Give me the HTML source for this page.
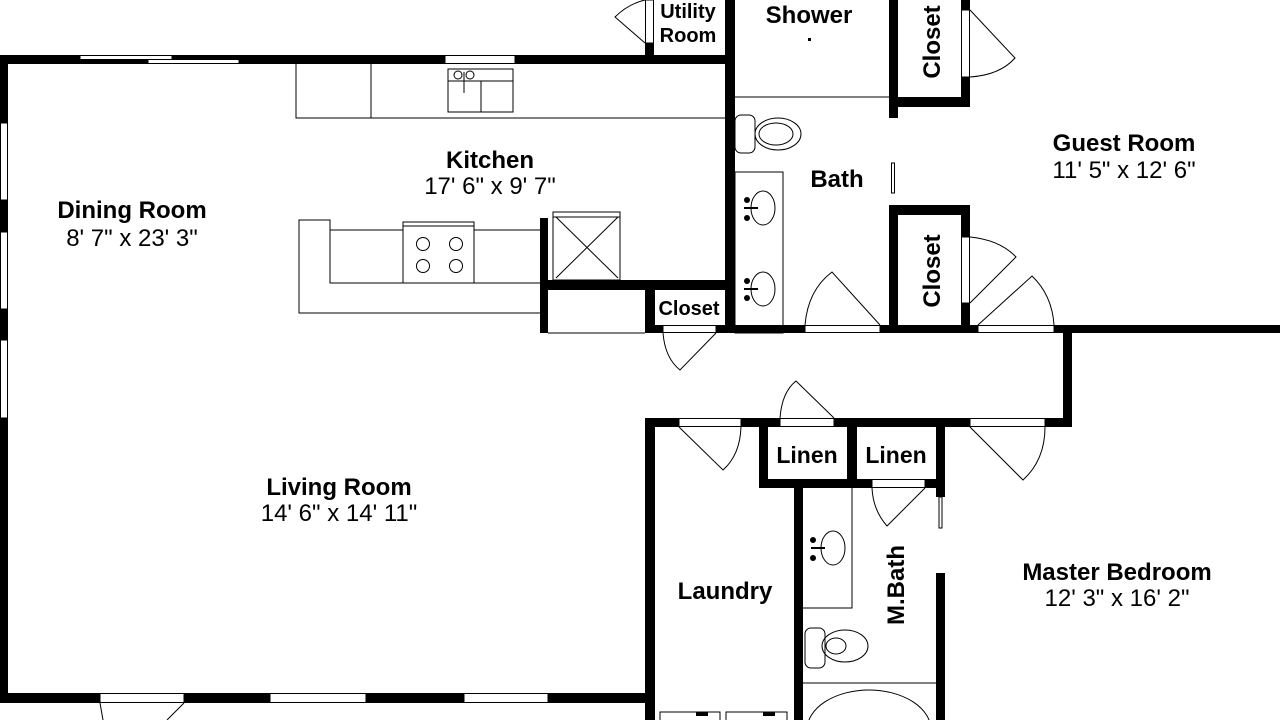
<!DOCTYPE html>
<html><head><meta charset="utf-8"><style>
html,body{margin:0;padding:0;background:#fff;overflow:hidden;width:1280px;height:720px;}
svg{display:block;}
text{font-family:"Liberation Sans",Arial,sans-serif;fill:#000;}
.b{font-weight:bold;font-size:24px;}
.r{font-size:24px;}
</style></head><body>
<svg width="1280" height="720" viewBox="0 0 1280 720" xmlns="http://www.w3.org/2000/svg">
<rect width="1280" height="720" fill="#fff"/>
<g fill="#000">
<rect x="0" y="55" width="735" height="9"/>
<rect x="0" y="55" width="8" height="648"/>
<rect x="0" y="693" width="655" height="10"/>
<rect x="645" y="418" width="10" height="302"/>
<rect x="645" y="43" width="9" height="21"/>
<rect x="725" y="0" width="10" height="333"/>
<rect x="889" y="0" width="9" height="118"/>
<rect x="889" y="97" width="81" height="10"/>
<rect x="961" y="0" width="9" height="10"/>
<rect x="961" y="77" width="9" height="30"/>
<rect x="889" y="205" width="9" height="128"/>
<rect x="889" y="205" width="81" height="10"/>
<rect x="961" y="205" width="9" height="32"/>
<rect x="961" y="303" width="9" height="30"/>
<rect x="716" y="325" width="89" height="8"/>
<rect x="880" y="325" width="98" height="8"/>
<rect x="1054" y="325" width="226" height="8"/>
<rect x="645" y="325" width="18" height="8"/>
<rect x="540" y="218" width="8" height="115"/>
<rect x="540" y="280" width="195" height="10"/>
<rect x="645" y="280" width="10" height="53"/>
<rect x="1063" y="325" width="9" height="102"/>
<rect x="645" y="418" width="34" height="9"/>
<rect x="741" y="418" width="39" height="9"/>
<rect x="834" y="418" width="136" height="9"/>
<rect x="1045" y="418" width="27" height="9"/>
<rect x="759" y="418" width="9" height="70"/>
<rect x="847" y="418" width="10" height="70"/>
<rect x="936" y="418" width="9" height="79"/>
<rect x="759" y="479" width="113" height="9"/>
<rect x="925" y="479" width="20" height="9"/>
<rect x="794" y="479" width="9" height="241"/>
<rect x="936" y="573" width="9" height="147"/>
</g>
<g fill="none" stroke="#000" stroke-width="1">
<rect x="0.5" y="123" width="7" height="77" fill="#fff"/>
<rect x="0.5" y="232" width="7" height="77" fill="#fff"/>
<rect x="0.5" y="340" width="7" height="78" fill="#fff"/>
<rect x="80" y="55.5" width="92" height="4" fill="#fff"/>
<rect x="148" y="59.5" width="91" height="4" fill="#fff"/>
<rect x="445" y="55.5" width="70" height="8" fill="#fff"/>
<rect x="100" y="693.5" width="84" height="9" fill="#fff"/>
<rect x="270" y="693.5" width="96" height="9" fill="#fff"/>
<rect x="464" y="693.5" width="84" height="9" fill="#fff"/>
<path d="M100,703 L103,720 M184,703 L167,720"/>
<rect x="645.5" y="0" width="8" height="43" fill="#fff"/>
<path d="M645,43 L615,17 Q628,4 645,0"/>
<rect x="961.5" y="10" width="8" height="67" fill="#fff"/>
<path d="M970,10 L1015,58 Q1000,75 970,77"/>
<rect x="961.5" y="237" width="8" height="66" fill="#fff"/>
<path d="M970,237 Q1000,240 1016,257 L970,303"/>
<path d="M978,325 L1032,276 Q1052,295 1054,325"/>
<path d="M805,325 Q808,290 832,272 L880,325"/>
<rect x="805" y="325.5" width="75" height="7" fill="#fff"/>
<rect x="978" y="325.5" width="76" height="7" fill="#fff"/>
<rect x="891.5" y="163" width="3" height="30"/>
<path d="M735,97 H889"/>
<rect x="735" y="172" width="48" height="161"/>
<ellipse cx="763" cy="208" rx="12" ry="17"/>
<ellipse cx="763" cy="289" rx="12" ry="17"/>
<rect x="735" y="115" width="20" height="38" rx="6"/>
<ellipse cx="778" cy="134" rx="23" ry="16"/>
<ellipse cx="776" cy="134" rx="17" ry="11"/>
<rect x="663" y="325.5" width="53" height="7" fill="#fff"/>
<path d="M663,333 Q665,358 680,370 L716,333"/>
<path d="M548,333 H645"/>
<rect x="553" y="212" width="67" height="68"/>
<path d="M553,217 H620 M556,217 L618,278 M618,217 L556,278"/>
<path d="M296,64 V118 H725 M371,64 V118"/>
<rect x="448" y="69" width="65" height="43"/>
<path d="M481,81 V112 M448,81 H513"/>
<circle cx="458" cy="75" r="4"/><circle cx="470" cy="75" r="4"/>
<path d="M464,72 V93"/>
<path d="M540,230 H330 V220 H299 V313 H540 M330,230 V283 H540"/>
<rect x="403" y="222" width="71" height="61" fill="#fff"/>
<path d="M403,226 H474"/>
<circle cx="423" cy="244" r="6.5"/><circle cx="456" cy="244" r="6.5"/>
<circle cx="423" cy="266" r="6.5"/><circle cx="456" cy="266" r="6.5"/>
<rect x="679" y="418.5" width="62" height="8" fill="#fff"/>
<path d="M679,427 L723,470 Q740,455 741,427"/>
<rect x="780" y="418.5" width="54" height="8" fill="#fff"/>
<path d="M780,418 Q782,392 796,381 L834,418"/>
<rect x="970" y="418.5" width="75" height="8" fill="#fff"/>
<path d="M970,427 L1023,480 Q1045,460 1045,427"/>
<rect x="872" y="479.5" width="53" height="8" fill="#fff"/>
<path d="M872,488 Q873,510 887,526 L925,488"/>
<rect x="939" y="497" width="3" height="31"/>
<path d="M803,608 H852 V488"/>
<ellipse cx="833" cy="548" rx="12" ry="17"/>
<rect x="805" y="628" width="20" height="40" rx="6"/>
<ellipse cx="845" cy="646" rx="23" ry="16"/>
<ellipse cx="836" cy="646" rx="10" ry="8"/>
<path d="M803,683 H936"/>
<ellipse cx="869" cy="730" rx="62" ry="40"/>
<rect x="660" y="712" width="60" height="10"/>
<rect x="726" y="712" width="61" height="10"/>
</g>
<g fill="#000">
<rect x="696" y="712" width="12" height="4"/>
<rect x="763" y="712" width="12" height="4"/>
<circle cx="747" cy="200" r="3"/><circle cx="747" cy="218" r="3"/>
<rect x="744" y="207" width="14" height="2"/>
<circle cx="747" cy="281" r="3"/><circle cx="747" cy="298" r="3"/>
<rect x="744" y="288" width="14" height="2"/>
<circle cx="813" cy="540" r="3"/><circle cx="813" cy="558" r="3"/>
<rect x="811" y="547" width="14" height="2"/>
<rect x="808" y="38" width="3" height="3"/>
</g>
<g text-anchor="middle">
<text class="b" x="132" y="218">Dining Room</text>
<text class="r" x="132" y="246">8' 7" x 23' 3"</text>
<text class="b" x="490" y="168">Kitchen</text>
<text class="r" x="490" y="194">17' 6" x 9' 7"</text>
<text class="b" x="339" y="495">Living Room</text>
<text class="r" x="339" y="521">14' 6" x 14' 11"</text>
<text class="b" x="1124" y="151">Guest Room</text>
<text class="r" x="1124" y="178">11' 5" x 12' 6"</text>
<text class="b" x="1117" y="580">Master Bedroom</text>
<text class="r" x="1117" y="606">12' 3" x 16' 2"</text>
<text class="b" x="837" y="187">Bath</text>
<text class="b" x="809" y="23">Shower</text>
<text class="b" x="688" y="18" style="font-size:20px">Utility</text>
<text class="b" x="688" y="42" style="font-size:20px">Room</text>
<text class="b" x="689" y="315" style="font-size:20px">Closet</text>
<text class="b" x="807" y="463" style="font-size:23px">Linen</text>
<text class="b" x="896" y="463" style="font-size:23px">Linen</text>
<text class="b" x="725" y="599">Laundry</text>
<text class="b" transform="translate(940,42) rotate(-90)">Closet</text>
<text class="b" transform="translate(940,271) rotate(-90)">Closet</text>
<text class="b" transform="translate(904,585) rotate(-90)">M.Bath</text>
</g>
</svg>
</body></html>
